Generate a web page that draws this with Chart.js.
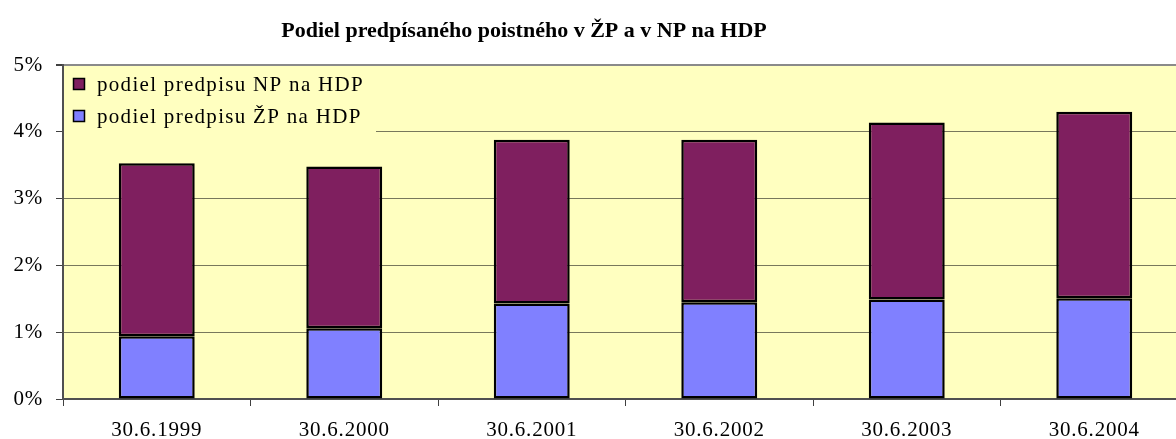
<!DOCTYPE html>
<html lang="sk">
<head>
<meta charset="utf-8">
<title>Podiel predpísaného poistného</title>
<script src="https://cdn.jsdelivr.net/npm/chart.js@4.4.1/dist/chart.umd.min.js"></script>
<style>
  html, body { margin: 0; padding: 0; background: #fff; overflow: hidden; }
  #wrap { width: 1176px; height: 439px; overflow: hidden; }
  canvas { display: block; }
</style>
</head>
<body>
<div id="wrap"><canvas id="chart" width="1200" height="439"></canvas></div>
<script>
// ---- Data ----
const chartTitle = 'Podiel predpísaného poistného v ŽP a v NP na HDP';
const categories = ['30.6.1999', '30.6.2000', '30.6.2001', '30.6.2002', '30.6.2003', '30.6.2004'];
const labelZP = 'podiel predpisu ŽP na HDP';
const labelNP = 'podiel predpisu NP na HDP';
const shareZP = [0.94, 1.06, 1.43, 1.45, 1.49, 1.51];   // % of HDP
const shareNP = [2.59, 2.42, 2.45, 2.43, 2.65, 2.79];   // % of HDP
const yTicks  = [0, 1, 2, 3, 4, 5];

const FONT = "'Liberation Serif', 'Times New Roman', serif";
const PLOT_BG = '#FFFFC0';

// ---- Plot background + default text spacing ----
const plotBackground = {
  id: 'plotBackground',
  beforeDraw(chart) {
    const { ctx, chartArea: a } = chart;
    ctx.save();
    ctx.fillStyle = PLOT_BG;
    ctx.fillRect(a.left, a.top, a.right - a.left, a.bottom - a.top);
    ctx.restore();
    ctx.letterSpacing = '0.8px';
  }
};

// ---- Legend drawn inside the plot, top-left ----
const insideLegend = {
  id: 'insideLegend',
  afterDraw(chart) {
    const { ctx, chartArea: a } = chart;
    const items = chart.data.datasets.slice().reverse();
    ctx.save();
    ctx.fillStyle = PLOT_BG;
    ctx.fillRect(a.left + 1, a.top + 2, 312, 72);
    ctx.font = `21px ${FONT}`;
    ctx.letterSpacing = '1.3px';
    ctx.textBaseline = 'middle';
    items.forEach((ds, i) => {
      const cy = a.top + 19 + i * 32;
      ctx.fillStyle = ds.backgroundColor;
      ctx.fillRect(a.left + 10.5, cy - 5.5, 11, 11);
      ctx.strokeStyle = '#000';
      ctx.lineWidth = 1.5;
      ctx.strokeRect(a.left + 10.5, cy - 5.5, 11, 11);
      ctx.fillStyle = '#000';
      ctx.fillText(ds.label, a.left + 34, cy + 1);
    });
    ctx.restore();
  }
};

// ---- Title (sits left of the canvas centre in the original) ----
const offsetTitle = {
  id: 'offsetTitle',
  afterDraw(chart) {
    const { ctx } = chart;
    ctx.save();
    ctx.font = `bold 22px ${FONT}`;
    ctx.letterSpacing = '0px';
    ctx.fillStyle = '#000';
    ctx.textAlign = 'center';
    ctx.textBaseline = 'alphabetic';
    ctx.fillText(chartTitle, 524, 37);
    ctx.restore();
  }
};

const chart = new Chart(document.getElementById('chart'), {
  type: 'bar',
  data: {
    labels: categories,
    datasets: [
      {
        label: labelZP,
        data: shareZP,
        backgroundColor: '#8080FF',
        borderColor: '#000',
        borderWidth: 2.5,
        borderSkipped: false,
        inflateAmount: 0,
      },
      {
        label: labelNP,
        data: shareNP,
        backgroundColor: '#7F1F5F',
        borderColor: '#000',
        borderWidth: 2.5,
        borderSkipped: false,
        inflateAmount: 0,
      }
    ]
  },
  options: {
    responsive: false,
    animation: false,
    devicePixelRatio: 1,
    layout: { padding: { top: 65, right: 12, left: 0, bottom: 0 } },
    datasets: { bar: { categoryPercentage: 1, barPercentage: 0.405 } },
    plugins: {
      legend: { display: false },
      title: { display: false },
      tooltip: { enabled: false }
    },
    scales: {
      x: {
        stacked: true,
        grid: {
          offset: true,
          drawOnChartArea: false,
          drawTicks: true,
          tickLength: 7,
          tickColor: '#404040',
        },
        border: { color: '#505050', width: 2 },
        ticks: {
          color: '#000',
          font: { family: FONT, size: 21 },
          padding: 12,
          maxRotation: 0,
        },
        afterFit(scale) { scale.height = 40; }
      },
      y: {
        stacked: true,
        min: 0,
        max: 5,
        afterBuildTicks(scale) { scale.ticks = yTicks.map(v => ({ value: v })); },
        grid: {
          color: ctx => ctx.tick && ctx.tick.value === 5 ? '#8a8a8a' : '#78785c',
          lineWidth: ctx => ctx.tick && ctx.tick.value === 5 ? 2 : 1,
          drawTicks: true,
          tickLength: 7,
          tickColor: '#404040',
        },
        border: { color: '#505050', width: 2 },
        ticks: {
          color: '#000',
          font: { family: FONT, size: 21 },
          padding: 13,
          callback: v => v + '%'
        },
        afterFit(scale) { scale.width = 63; }
      }
    }
  },
  plugins: [plotBackground, insideLegend, offsetTitle]
});
</script>
</body>
</html>
